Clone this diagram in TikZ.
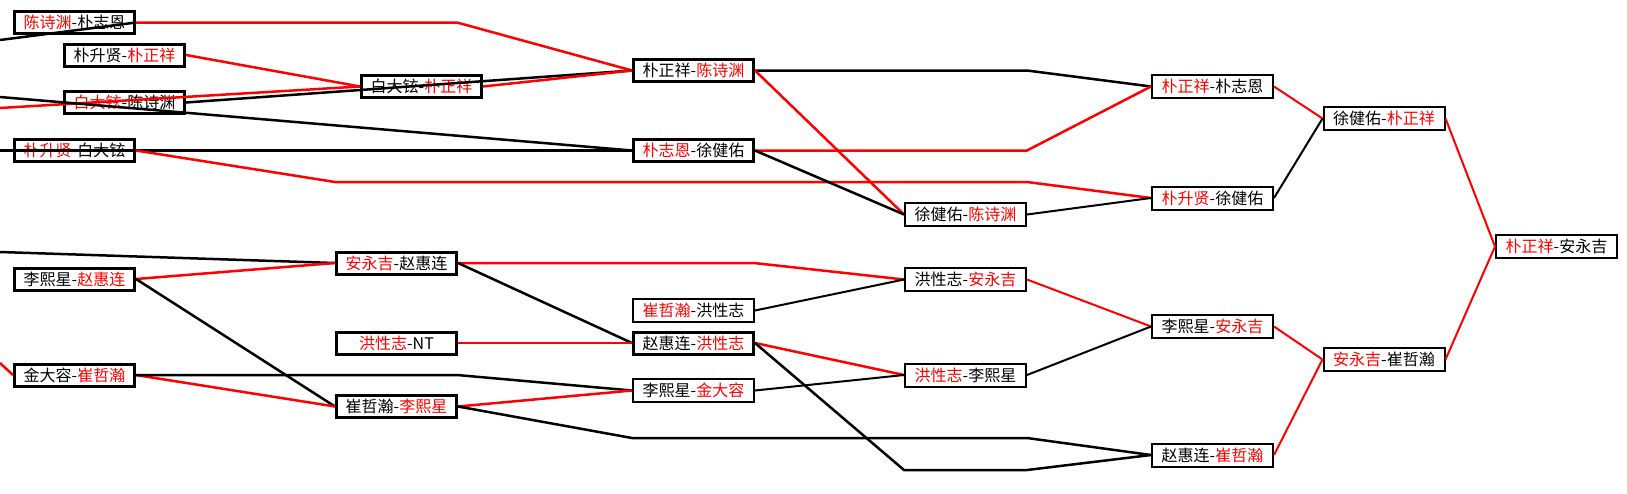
\documentclass[tikz,border=0pt]{standalone}
\usepackage{fontspec}
\newfontfamily\cjk{Noto Sans CJK SC}
\usepackage{tikz}

\begin{document}
\begin{tikzpicture}[game/.style={rectangle,draw,fill=white,line width=3pt,minimum width=120pt,minimum height=22pt,inner sep=0pt,font=\cjk\fontsize{16}{16}\selectfont},
  game2/.style={game,line width=2pt,minimum width=121pt,minimum height=23pt},
  win/.style={draw=red,line width=2.5pt},
  lose/.style={draw=black,line width=2.5pt},
  win2/.style={win,line width=2pt},
  lose2/.style={lose,line width=2pt}]
  \useasboundingbox (0pt, 0pt) rectangle (1627pt, -493pt);
  % first column
  \draw (74.5pt, -22.5pt)node[game](0){\textcolor{red}{陈诗渊}-朴志恩};
  \draw (124.5pt, -55.0pt)node[game](1){朴升贤-\textcolor{red}{朴正祥}};
  \draw (124.5pt, -102.5pt)node[game](2){\textcolor{red}{白大铉}-陈诗渊};
  \draw (74.5pt, -150.5pt)node[game](3){\textcolor{red}{朴升贤}-白大铉};
  \draw (74.5pt, -279.0pt)node[game](4){李熙星-\textcolor{red}{赵惠连}};
  \draw (74.5pt, -375.0pt)node[game](5){金大容-\textcolor{red}{崔哲瀚}};
  % second column
  \draw (421.5pt, -86.5pt)node[game](6){白大铉-\textcolor{red}{朴正祥}};
  \draw (396.5pt, -263.0pt)node[game](7){\textcolor{red}{安永吉}-赵惠连};
  \draw (396.5pt, -343.0pt)node[game](8){\textcolor{red}{洪性志}-NT};
  \draw (396.5pt, -406.5pt)node[game](9){崔哲瀚-\textcolor{red}{李熙星}};
  % third column
  \draw (693.5pt, -70.5pt)node[game](10){朴正祥-\textcolor{red}{陈诗渊}};
  \draw (693.5pt, -150.5pt)node[game](11){\textcolor{red}{朴志恩}-徐健佑};
  \draw (693.5pt, -310.5pt)node[game2](12){\textcolor{red}{崔哲瀚}-洪性志};
  \draw (693.5pt, -343.0pt)node[game](13){赵惠连-\textcolor{red}{洪性志}};
  \draw (693.5pt, -390.5pt)node[game2](14){李熙星-\textcolor{red}{金大容}};
  % fourth column
  \draw (965.5pt, -214.5pt)node[game2](15){徐健佑-\textcolor{red}{陈诗渊}};
  \draw (965.5pt, -279.5pt)node[game2](16){洪性志-\textcolor{red}{安永吉}};
  \draw (965.5pt, -375.0pt)node[game2](17){\textcolor{red}{洪性志}-李熙星};
  % fifth column
  \draw (1212.5pt, -86.5pt)node[game2](18){\textcolor{red}{朴正祥}-朴志恩};
  \draw (1212.5pt, -198.0pt)node[game2](19){\textcolor{red}{朴升贤}-徐健佑};
  \draw (1212.5pt, -326.5pt)node[game2](20){李熙星-\textcolor{red}{安永吉}};
  \draw (1212.5pt, -455.0pt)node[game2](21){赵惠连-\textcolor{red}{崔哲瀚}};
  % semi-finals and final
  \draw (1384.0pt, -118.5pt)node[game2](22){徐健佑-\textcolor{red}{朴正祥}};
  \draw (1384.0pt, -359.5pt)node[game2](23){\textcolor{red}{安永吉}-崔哲瀚};
  \draw (1556.5pt, -246.5pt)node[game2](24){\textcolor{red}{朴正祥}-安永吉};
  % loose ends at the left border
  \coordinate (e1) at (0pt, -40.0pt);
  \coordinate (e2) at (0pt, -97.0pt);
  \coordinate (e3) at (0pt, -108.0pt);
  \coordinate (e4) at (0pt, -150.5pt);
  \coordinate (e5) at (0pt, -252.0pt);
  \coordinate (e6) at (0pt, -363.0pt);
  % upper half
  \draw[lose] (e1) -- (0.east);
  \draw[win] (0.east) -- (457pt, -22.5pt) -- (10.west);
  \draw[win] (1.east) -- (6.west);
  \draw[win] (e3) -- (6.west);
  \draw[lose] (e2) -- (11.west);
  \draw[lose] (2.east) -- (10.west);
  \draw[win] (6.east) -- (10.west);
  \draw[lose] (e4) -- (11.west);
  \draw[win] (3.east) -- (335pt, -182pt) -- (1027pt, -182pt) -- (19.west);
  \draw[lose] (10.east) -- (1027pt, -70.5pt) -- (18.west);
  \draw[win] (10.east) -- (15.west);
  \draw[win] (11.east) -- (1027pt, -150.5pt) -- (18.west);
  \draw[lose] (11.east) -- (15.west);
  \draw[lose2] (15.east) -- (19.west);
  \draw[win2] (18.east) -- (22.west);
  \draw[lose2] (19.east) -- (22.west);
  \draw[win2] (22.east) -- (24.west);
  % lower half
  \draw[lose] (e5) -- (7.west);
  \draw[win] (4.east) -- (7.west);
  \draw[lose] (4.east) -- (9.west);
  \draw[win] (e6) -- (5.west);
  \draw[win] (5.east) -- (9.west);
  \draw[lose] (5.east) -- (457pt, -375pt) -- (14.west);
  \draw[win] (9.east) -- (14.west);
  \draw[lose] (9.east) -- (632pt, -438pt) -- (1027pt, -438pt) -- (21.west);
  \draw[win] (7.east) -- (754pt, -263pt) -- (16.west);
  \draw[lose] (7.east) -- (13.west);
  \draw[win] (8.east) -- (13.west);
  \draw[lose2] (12.east) -- (16.west);
  \draw[win] (13.east) -- (17.west);
  \draw[lose] (13.east) -- (904pt, -470pt) -- (1027pt, -470pt) -- (21.west);
  \draw[lose2] (14.east) -- (17.west);
  \draw[win2] (16.east) -- (20.west);
  \draw[lose2] (17.east) -- (20.west);
  \draw[win2] (20.east) -- (23.west);
  \draw[win2] (21.east) -- (23.west);
  \draw[win2] (23.east) -- (24.west);
\end{tikzpicture}
\end{document}
